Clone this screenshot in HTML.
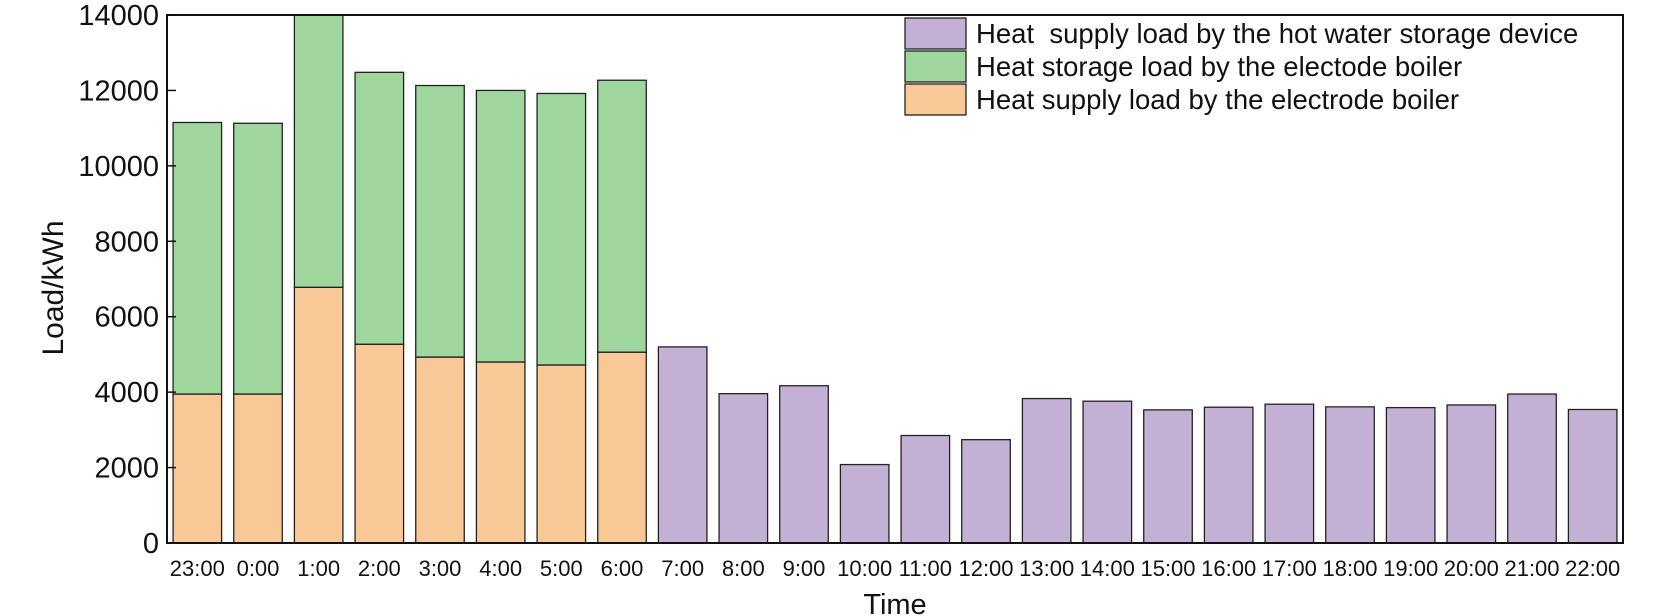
<!DOCTYPE html>
<html><head><meta charset="utf-8"><style>
html,body{margin:0;padding:0;background:#fff}
svg{display:block;font-family:"Liberation Sans",Arial,sans-serif}
</style></head><body>
<svg id="chart" width="1668" height="616" viewBox="0 0 1668 616"></svg>
<script>
const categories=["23:00","0:00","1:00","2:00","3:00","4:00","5:00","6:00","7:00","8:00","9:00","10:00","11:00","12:00","13:00","14:00","15:00","16:00","17:00","18:00","19:00","20:00","21:00","22:00"];
const supplyBoiler=[3950,3950,6780,5270,4930,4800,4720,5060,0,0,0,0,0,0,0,0,0,0,0,0,0,0,0,0];
const storageBoiler=[7200,7180,7220,7210,7200,7200,7200,7210,0,0,0,0,0,0,0,0,0,0,0,0,0,0,0,0];
const supplyStorage=[0,0,0,0,0,0,0,0,5200,3960,4170,2080,2850,2740,3830,3760,3530,3600,3680,3610,3590,3660,3950,3540];
const yTicks=[0,2000,4000,6000,8000,10000,12000,14000];

const NS="http://www.w3.org/2000/svg";
const svg=document.getElementById('chart');
const L=167,R=1623,T=15,B=543,YMAX=14000;
const slot=(R-L)/categories.length, bw=slot*0.8;
const y=v=>B-(v/YMAX)*(B-T);
const xc=i=>L+slot*(i+0.5);
function mk(tag,attrs){const e=document.createElementNS(NS,tag);for(const k in attrs)e.setAttribute(k,attrs[k]);svg.appendChild(e);return e;}

function bar(i,v0,v1,fill,name){
  if(v1<=v0)return;
  const r=mk('rect',{x:xc(i)-bw/2,y:y(v1),width:bw,height:y(v0)-y(v1),fill:fill,stroke:'#222','stroke-width':1.3});
  
  
}
categories.forEach((c,i)=>{
  bar(i,0,supplyBoiler[i],'#f9c897','bar-supply-boiler-'+c);
  bar(i,supplyBoiler[i],supplyBoiler[i]+storageBoiler[i],'#9fd69d','bar-storage-boiler-'+c);
  bar(i,0,supplyStorage[i],'#c2b1d5','bar-supply-storage-'+c);
  const t=mk('text',{x:xc(i),y:576,'font-size':22,'text-anchor':'middle',fill:'#111'});
  t.textContent=c;
  
  
});
const frame=mk('rect',{x:L,y:T,width:R-L,height:B-T,fill:'none',stroke:'#111','stroke-width':2});


yTicks.forEach(v=>{
  const l=mk('line',{x1:L,x2:L+9,y1:y(v),y2:y(v),stroke:'#111','stroke-width':1.5});
  
  
  const t=mk('text',{x:L-8,y:y(v)+10,'font-size':29,'text-anchor':'end',fill:'#111'});
  t.textContent=v;
  
  
});
const yt=mk('text',{x:0,y:0,'font-size':30,'text-anchor':'middle',fill:'#111',transform:'translate(63,288) rotate(-90)'});
yt.textContent='Load/kWh';


const xt=mk('text',{x:(L+R)/2,y:614,'font-size':29,'text-anchor':'middle',fill:'#111'});
xt.textContent='Time';



const legend=[["Heat  supply load by the hot water storage device",'#c2b1d5'],["Heat storage load by the electode boiler",'#9fd69d'],["Heat supply load by the electrode boiler",'#f9c897']];
legend.forEach((e,i)=>{
  const yy=18+i*33;
  const r=mk('rect',{x:905,y:yy,width:61,height:31,fill:e[1],stroke:'#222','stroke-width':1.3});
  
  
  const t=mk('text',{x:976,y:yy+25,'font-size':27.5,fill:'#111'});
  t.setAttribute('style','white-space:pre');
  t.textContent=e[0];
  
  
});
</script>
</body></html>
